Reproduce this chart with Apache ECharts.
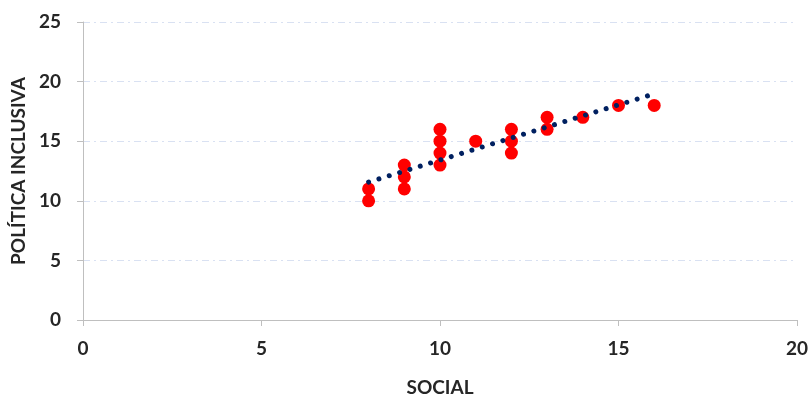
<!DOCTYPE html>
<html><head><meta charset="utf-8">
<script src="https://cdn.jsdelivr.net/npm/echarts@6/dist/echarts.min.js"></script>
<style>html,body{margin:0;padding:0;background:#fff}#c{width:812px;height:402px}</style>
</head><body><div id="c"></div>
<script>
const socialX = [8, 8, 9, 9, 9, 10, 10, 10, 10, 11, 12, 12, 12, 13, 13, 14, 15, 16];
const politicaY = [10, 11, 11, 12, 13, 13, 14, 15, 16, 15, 14, 15, 16, 16, 17, 17, 18, 18];
const xTicks = [0, 5, 10, 15, 20];
const yTicks = [0, 5, 10, 15, 20, 25];

const pts = socialX.map((x, i) => [x, politicaY[i]]);
// linear trendline (least squares) from data
const n = pts.length;
const mx = socialX.reduce((a, b) => a + b, 0) / n;
const my = politicaY.reduce((a, b) => a + b, 0) / n;
let sxy = 0, sxx = 0;
for (let i = 0; i < n; i++) { sxy += (socialX[i] - mx) * (politicaY[i] - my); sxx += (socialX[i] - mx) ** 2; }
const slope = sxy / sxx, icpt = my - slope * mx;
const xmin = Math.min(...socialX), xmax = Math.max(...socialX);
const trend = [[xmin, icpt + slope * xmin], [xmax, icpt + slope * xmax]];

const font = 'Lato, "Open Sans", sans-serif';
const chart = echarts.init(document.getElementById('c'));
chart.setOption({
  animation: false,
  grid: { left: 83, right: 15, top: 22, bottom: 75 },
  xAxis: {
    type: 'value', min: xTicks[0], max: xTicks[xTicks.length - 1], interval: 5,
    name: 'SOCIAL', nameLocation: 'middle', nameGap: 58,
    nameTextStyle: { fontFamily: font, fontWeight: 'bold', fontSize: 19, color: '#262626' },
    axisLine: { show: true, lineStyle: { color: '#BFBFBF', width: 1 } },
    axisTick: { show: true, length: 6, lineStyle: { color: '#BFBFBF' } },
    axisLabel: { fontFamily: font, fontWeight: 'bold', fontSize: 19, color: '#262626', margin: 19 },
    splitLine: { show: false }
  },
  yAxis: {
    type: 'value', min: yTicks[0], max: yTicks[yTicks.length - 1], interval: 5,
    name: 'POLÍTICA INCLUSIVA', nameLocation: 'middle', nameGap: 55, nameRotate: 90,
    nameTextStyle: { fontFamily: font, fontWeight: 'bold', fontSize: 19, color: '#262626' },
    axisLine: { show: true, lineStyle: { color: '#BFBFBF', width: 1 } },
    axisTick: { show: true, length: 6, lineStyle: { color: '#BFBFBF' } },
    axisLabel: { fontFamily: font, fontWeight: 'bold', fontSize: 19, color: '#262626', margin: 22 },
    splitLine: { show: true, lineStyle: { color: '#D9E1F2', width: 1, type: [7, 4, 2, 4] } }
  },
  series: [
    {
      type: 'scatter', data: pts, symbol: 'circle', symbolSize: 13,
      itemStyle: { color: '#FF0000', opacity: 1 }, z: 2
    },
    {
      type: 'line', data: trend, symbol: 'none', z: 3,
      lineStyle: { color: '#002060', width: 5, type: [0.01, 10.8], cap: 'round' }
    }
  ]
});
</script></body></html>
